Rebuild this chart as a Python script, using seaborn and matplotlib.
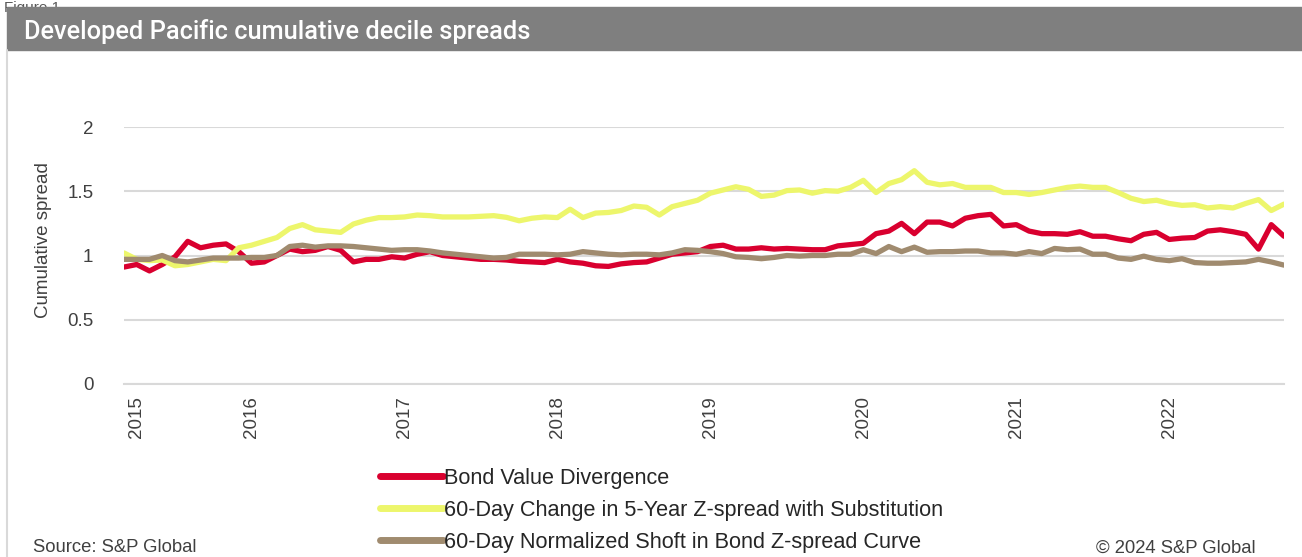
import numpy as np
import pandas as pd
import matplotlib.pyplot as plt
import seaborn as sns
from matplotlib.patches import Rectangle
from matplotlib.lines import Line2D

sns.set_theme(style='white')
plt.rcParams['font.family'] = ['Liberation Sans', 'DejaVu Sans']

# monthly points, Mar 2015 - Oct 2022
months = pd.date_range('2015-03-01', periods=92, freq='MS')

bond_value_div = [
    0.91, 0.93, 0.88, 0.93, 0.99, 1.11, 1.06, 1.08, 1.09, 1.03,
    0.94, 0.95, 1.00, 1.05, 1.03, 1.04, 1.07, 1.04, 0.95, 0.97,
    0.97, 0.99, 0.98, 1.01, 1.03, 1.00, 0.99, 0.98, 0.97, 0.97,
    0.965, 0.955, 0.95, 0.945, 0.97, 0.95, 0.94, 0.92, 0.915, 0.935,
    0.945, 0.95, 0.98, 1.01, 1.02, 1.03, 1.07, 1.08, 1.05, 1.05,
    1.06, 1.05, 1.055, 1.05, 1.045, 1.045, 1.075, 1.085, 1.095, 1.17,
    1.19, 1.25, 1.17, 1.26, 1.26, 1.23, 1.29, 1.31, 1.32, 1.23,
    1.24, 1.19, 1.17, 1.17, 1.165, 1.185, 1.15, 1.15, 1.13, 1.115,
    1.165, 1.18, 1.125, 1.135, 1.14, 1.19, 1.20, 1.185, 1.165, 1.05,
    1.24, 1.15,
]

zspread_sub = [
    1.02, 0.97, 0.96, 0.965, 0.92, 0.93, 0.95, 0.97, 0.96, 1.06,
    1.08, 1.11, 1.14, 1.21, 1.24, 1.20, 1.19, 1.18, 1.245, 1.275,
    1.295, 1.295, 1.30, 1.315, 1.31, 1.30, 1.30, 1.30, 1.305, 1.31,
    1.297, 1.27, 1.29, 1.30, 1.295, 1.36, 1.295, 1.33, 1.335, 1.35,
    1.385, 1.375, 1.315, 1.38, 1.405, 1.43, 1.485, 1.51, 1.535, 1.515,
    1.46, 1.47, 1.505, 1.51, 1.485, 1.505, 1.50, 1.53, 1.585, 1.49,
    1.56, 1.59, 1.66, 1.57, 1.55, 1.56, 1.53, 1.53, 1.53, 1.49,
    1.49, 1.475, 1.49, 1.51, 1.53, 1.54, 1.53, 1.53, 1.49, 1.445,
    1.42, 1.43, 1.405, 1.39, 1.395, 1.37, 1.38, 1.37, 1.405, 1.435,
    1.35, 1.40,
]

normalized_shift = [
    0.97, 0.97, 0.97, 1.00, 0.96, 0.95, 0.965, 0.98, 0.98, 0.98,
    0.985, 0.985, 1.00, 1.07, 1.08, 1.065, 1.075, 1.075, 1.07, 1.06,
    1.05, 1.04, 1.045, 1.045, 1.035, 1.02, 1.01, 1.00, 0.99, 0.98,
    0.985, 1.01, 1.01, 1.01, 1.005, 1.01, 1.03, 1.02, 1.01, 1.005,
    1.01, 1.01, 1.005, 1.02, 1.045, 1.04, 1.03, 1.015, 0.99, 0.985,
    0.975, 0.985, 1.00, 0.995, 1.00, 1.00, 1.01, 1.01, 1.045, 1.015,
    1.07, 1.03, 1.065, 1.025, 1.03, 1.03, 1.035, 1.035, 1.02, 1.02,
    1.01, 1.03, 1.015, 1.055, 1.045, 1.05, 1.01, 1.01, 0.98, 0.97,
    0.995, 0.97, 0.96, 0.975, 0.945, 0.94, 0.94, 0.945, 0.95, 0.97,
    0.95, 0.925,
]

series_names = [
    'Bond Value Divergence',
    '60-Day Change in 5-Year Z-spread with Substitution',
    '60-Day Normalized Shoft in Bond Z-spread Curve',
]
colors = ['#D9002F', '#EDF66C', '#A08B6F']

year_ticks = [1, 10, 22, 34, 46, 58, 70, 82]
year_labels = ['2015', '2016', '2017', '2018', '2019', '2020', '2021', '2022']

df = pd.DataFrame({
    'idx': np.arange(len(months)),
    series_names[0]: bond_value_div,
    series_names[1]: zspread_sub,
    series_names[2]: normalized_shift,
})
long_df = df.melt(id_vars='idx', var_name='series', value_name='spread')

fig = plt.figure(figsize=(13.02, 5.57), dpi=100)
ax = fig.add_axes([124 / 1302, 1 - 384 / 557, 1160 / 1302, 257 / 557])

sns.lineplot(data=long_df, x='idx', y='spread', hue='series',
             hue_order=series_names, palette=colors, linewidth=3.8,
             ax=ax, legend=False)

ax.set_xlim(0, 91)
ax.set_ylim(0, 2)
ax.set_yticks([0, 0.5, 1, 1.5, 2])
ax.set_yticklabels(['0', '0.5', '1', '1.5', '2'], fontsize=13.5, color='#404040')
ax.yaxis.grid(True, color='#d9d9d9', linewidth=1.5)
ax.set_axisbelow(True)

ax.set_xticks(year_ticks)
ax.set_xticklabels(year_labels, rotation=90, fontsize=13.5, color='#404040')
ax.set_xticks(np.arange(0, 92), minor=True)
ax.tick_params(axis='x', which='both', direction='inout', length=10,
               color='#d9d9d9', width=1.3, pad=4)
ax.tick_params(axis='x', which='minor', length=8)
ax.tick_params(axis='y', length=0, pad=22)

for s in ['top', 'right', 'left']:
    ax.spines[s].set_visible(False)
ax.spines['bottom'].set_color('#d9d9d9')
ax.spines['bottom'].set_linewidth(1.5)

ax.set_xlabel('')
ax.set_ylabel('Cumulative spread', fontsize=13.5, color='#404040', labelpad=8)
ax.yaxis.set_label_coords(-72 / 1160, 0.56)

# legend below the plot
handles = [Line2D([0], [0], color=c, linewidth=5) for c in colors]
ax.legend(handles, series_names, loc='upper left',
          bbox_to_anchor=((380 - 124) / 1160, (384 - 468) / 257),
          frameon=False, fontsize=15.6, handlelength=2.9, handletextpad=0.05,
          labelspacing=0.5, borderpad=0, borderaxespad=0,
          labelcolor='#262626')

# title band
fig.add_artist(Rectangle((7 / 1302, 1 - 50 / 557), 1, 43 / 557,
                         transform=fig.transFigure, color='#7f7f7f',
                         zorder=2))
fig.add_artist(Line2D([7 / 1302, 7 / 1302], [0, 1 - 50 / 557],
                      transform=fig.transFigure, color='#d9d9d9', linewidth=1.5))
fig.text(24 / 1302, 1 - 32 / 557, 'Developed Pacific cumulative decile spreads',
         color='white', fontsize=18.3, fontweight='medium', va='center',
         ha='left', family=['Roboto', 'DejaVu Sans'], zorder=3)
fig.text(4 / 1302, 1 - 1 / 557, 'Figure 1', color='#595959', fontsize=11,
         va='top', ha='left', zorder=1)

fig.text(33 / 1302, 1 - 548 / 557, 'Source: S&P Global', color='#404040',
         fontsize=13.3, va='center', ha='left')
fig.text(1256 / 1302, 1 - 548 / 557, '\u00a9 2024 S&P Global', color='#404040',
         fontsize=13.3, va='center', ha='right')

fig.savefig('out.png', dpi=100)
